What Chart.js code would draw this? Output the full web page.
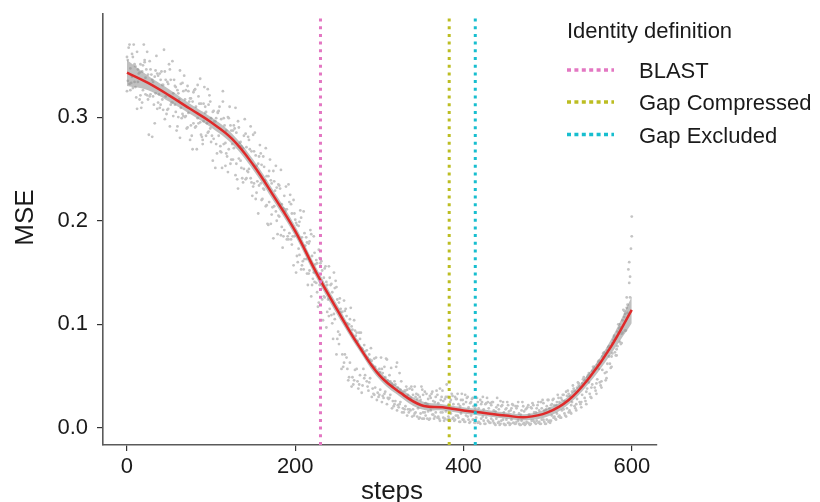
<!DOCTYPE html>
<html>
<head>
<meta charset="utf-8">
<title>MSE over training steps</title>
<script src="https://cdn.jsdelivr.net/npm/chart.js@4.4.1/dist/chart.umd.min.js"></script>
<style>
  html, body { margin: 0; padding: 0; background: #fff; }
  #wrap { width: 820px; height: 502px; }
</style>
</head>
<body>
<div id="wrap"><canvas id="mseChart" width="820" height="502"></canvas></div>
<script>
// raw MSE per step; five runs, each sampled every 3 steps from its own start step
const scatterStride = 3;
const scatterOffsets = [0, 1, 2, 0, 1];
const scatterA = [
  0.358,0.332,0.361,0.334,0.363,0.317,0.344,0.353,
  0.321,0.354,0.281,0.339,0.308,0.342,0.317,0.344,
  0.307,0.346,0.314,0.330,0.291,0.345,0.303,0.317,
  0.330,0.278,0.315,0.290,0.331,0.295,0.278,0.310,
  0.285,0.315,0.258,0.296,0.304,0.267,0.315,0.275,
  0.300,0.255,0.287,0.244,0.296,0.258,0.270,0.240,
  0.281,0.241,0.283,0.221,0.255,0.236,0.262,0.214,
  0.243,0.197,0.248,0.209,0.235,0.186,0.212,0.233,
  0.182,0.216,0.157,0.198,0.173,0.203,0.153,0.184,
  0.149,0.187,0.150,0.162,0.121,0.161,0.127,0.141,
  0.108,0.139,0.110,0.136,0.081,0.112,0.063,0.108,
  0.049,0.098,0.046,0.092,0.042,0.077,0.048,0.075,
  0.044,0.065,0.032,0.054,0.032,0.057,0.033,0.066,
  0.029,0.043,0.023,0.063,0.023,0.034,0.018,0.037,
  0.018,0.037,0.014,0.028,0.010,0.037,0.015,0.023,
  0.031,0.013,0.025,0.010,0.038,0.015,0.028,0.008,
  0.025,0.009,0.030,0.012,0.021,0.008,0.032,0.011,
  0.024,0.008,0.019,0.005,0.027,0.011,0.023,0.007,
  0.024,0.007,0.016,0.005,0.026,0.008,0.018,0.005,
  0.017,0.005,0.021,0.007,0.013,0.004,0.018,0.005,
  0.020,0.007,0.015,0.005,0.025,0.008,0.018,0.006,
  0.022,0.010,0.022,0.011,0.029,0.018,0.035,0.015,
  0.022,0.036,0.023,0.041,0.025,0.049,0.035,0.044,
  0.039,0.057,0.043,0.057,0.045,0.072,0.054,0.069,
  0.069,0.088,0.076,0.100,0.091,0.113,0.116,0.140,
  0.204
];
const scatterB = [
  0.335,0.347,0.328,0.349,0.334,0.351,0.326,0.338,
  0.341,0.322,0.334,0.323,0.340,0.312,0.331,0.320,
  0.332,0.312,0.323,0.305,0.323,0.309,0.325,0.301,
  0.304,0.318,0.294,0.310,0.294,0.313,0.296,0.305,
  0.286,0.299,0.279,0.299,0.282,0.298,0.274,0.287,
  0.269,0.287,0.270,0.285,0.260,0.272,0.250,0.271,
  0.250,0.267,0.236,0.253,0.234,0.254,0.230,0.243,
  0.218,0.236,0.214,0.232,0.204,0.216,0.191,0.211,
  0.188,0.207,0.185,0.196,0.167,0.184,0.163,0.179,
  0.152,0.166,0.141,0.159,0.138,0.152,0.126,0.138,
  0.115,0.131,0.105,0.124,0.090,0.112,0.071,0.101,
  0.063,0.095,0.056,0.084,0.051,0.076,0.051,0.068,
  0.048,0.060,0.039,0.053,0.037,0.053,0.035,0.046,
  0.032,0.041,0.026,0.039,0.025,0.033,0.021,0.032,
  0.029,0.018,0.030,0.019,0.027,0.015,0.024,0.016,
  0.017,0.026,0.015,0.024,0.015,0.026,0.016,0.022,
  0.014,0.023,0.012,0.023,0.014,0.023,0.012,0.020,
  0.012,0.021,0.010,0.019,0.009,0.018,0.010,0.019,
  0.009,0.017,0.009,0.018,0.007,0.015,0.008,0.016,
  0.008,0.015,0.006,0.014,0.007,0.016,0.006,0.013,
  0.007,0.015,0.007,0.017,0.008,0.017,0.008,0.019,
  0.012,0.022,0.014,0.025,0.017,0.026,0.019,0.031,
  0.025,0.036,0.028,0.040,0.032,0.046,0.038,0.051,
  0.042,0.057,0.047,0.063,0.056,0.072,0.062,0.078,
  0.072,0.087,0.079,0.097,0.092,0.110,0.111,0.126
];
const scatterC = [
  0.367,0.333,0.370,0.319,0.342,0.309,0.370,0.346,
  0.283,0.341,0.312,0.359,0.322,0.344,0.365,0.303,
  0.351,0.314,0.336,0.287,0.317,0.299,0.340,0.289,
  0.315,0.282,0.326,0.269,0.313,0.281,0.329,0.294,
  0.321,0.282,0.296,0.265,0.310,0.251,0.292,0.262,
  0.310,0.274,0.289,0.240,0.275,0.241,0.298,0.248,
  0.269,0.224,0.285,0.238,0.273,0.221,0.239,0.197,
  0.259,0.213,0.229,0.187,0.231,0.174,0.209,0.185,
  0.225,0.185,0.201,0.160,0.210,0.161,0.176,0.138,
  0.191,0.144,0.158,0.117,0.159,0.104,0.156,0.124,
  0.138,0.086,0.142,0.093,0.115,0.059,0.115,0.046,
  0.116,0.042,0.089,0.038,0.092,0.057,0.069,0.036,
  0.077,0.033,0.068,0.030,0.068,0.029,0.067,0.028,
  0.058,0.021,0.059,0.020,0.045,0.015,0.040,0.015,
  0.040,0.012,0.033,0.009,0.040,0.009,0.033,0.008,
  0.033,0.009,0.036,0.009,0.030,0.007,0.042,0.009,
  0.033,0.007,0.028,0.006,0.033,0.006,0.029,0.005,
  0.028,0.005,0.029,0.005,0.025,0.004,0.029,0.005,
  0.025,0.004,0.029,0.003,0.022,0.003,0.025,0.003,
  0.023,0.004,0.021,0.003,0.025,0.003,0.020,0.003,
  0.024,0.005,0.022,0.004,0.027,0.004,0.027,0.005,
  0.027,0.009,0.032,0.010,0.032,0.012,0.036,0.015,
  0.041,0.019,0.044,0.023,0.047,0.026,0.051,0.030,
  0.059,0.036,0.064,0.041,0.072,0.046,0.078,0.058,
  0.085,0.070,0.100,0.081,0.114,0.094,0.153,0.173
];
const scatterD = [
  0.325,0.370,0.339,0.351,0.308,0.343,0.314,0.355,
  0.363,0.320,0.336,0.294,0.342,0.309,0.331,0.298,
  0.334,0.291,0.354,0.312,0.326,0.280,0.333,0.300,
  0.290,0.318,0.269,0.327,0.299,0.337,0.274,0.304,
  0.327,0.289,0.305,0.251,0.305,0.272,0.325,0.253,
  0.247,0.292,0.259,0.309,0.231,0.276,0.237,0.284,
  0.247,0.291,0.233,0.263,0.207,0.265,0.231,0.270,
  0.196,0.239,0.183,0.253,0.205,0.249,0.185,0.211,
  0.235,0.182,0.220,0.150,0.195,0.153,0.209,0.163,
  0.178,0.127,0.185,0.140,0.172,0.111,0.145,0.097,
  0.156,0.109,0.150,0.071,0.121,0.057,0.123,0.068,
  0.100,0.040,0.104,0.057,0.092,0.034,0.080,0.045,
  0.071,0.030,0.067,0.027,0.057,0.025,0.059,0.023,
  0.051,0.019,0.045,0.017,0.053,0.015,0.036,0.012,
  0.038,0.011,0.040,0.011,0.030,0.009,0.035,0.009,
  0.009,0.035,0.011,0.032,0.007,0.036,0.009,0.030,
  0.007,0.031,0.008,0.033,0.006,0.027,0.006,0.030,
  0.006,0.029,0.005,0.025,0.004,0.030,0.004,0.025,
  0.005,0.025,0.003,0.022,0.004,0.025,0.003,0.022,
  0.004,0.022,0.004,0.025,0.003,0.021,0.004,0.022,
  0.004,0.022,0.004,0.025,0.004,0.024,0.004,0.027,
  0.007,0.028,0.008,0.029,0.010,0.032,0.011,0.033,
  0.014,0.038,0.017,0.043,0.020,0.047,0.023,0.053,
  0.029,0.059,0.033,0.065,0.039,0.073,0.048,0.079,
  0.059,0.089,0.070,0.096,0.082,0.107,0.126,0.160,
  0.185
];
const scatterE = [
  0.355,0.326,0.358,0.329,0.346,0.321,0.350,0.322,
  0.317,0.346,0.320,0.345,0.314,0.336,0.307,0.336,
  0.308,0.336,0.301,0.329,0.300,0.332,0.301,0.326,
  0.325,0.292,0.324,0.291,0.320,0.283,0.313,0.282,
  0.312,0.276,0.306,0.274,0.306,0.266,0.299,0.265,
  0.299,0.259,0.292,0.255,0.290,0.251,0.282,0.241,
  0.278,0.237,0.267,0.227,0.262,0.220,0.252,0.215,
  0.248,0.206,0.238,0.200,0.234,0.194,0.224,0.182,
  0.218,0.177,0.207,0.166,0.199,0.157,0.188,0.149,
  0.180,0.138,0.169,0.131,0.164,0.124,0.154,0.112,
  0.145,0.101,0.135,0.086,0.125,0.071,0.113,0.057,
  0.105,0.049,0.094,0.045,0.086,0.041,0.074,0.040,
  0.066,0.038,0.059,0.034,0.054,0.031,0.049,0.029,
  0.045,0.026,0.042,0.022,0.037,0.019,0.036,0.018,
  0.017,0.032,0.015,0.032,0.014,0.032,0.012,0.028,
  0.029,0.013,0.030,0.011,0.027,0.010,0.030,0.011,
  0.027,0.010,0.028,0.010,0.027,0.008,0.025,0.008,
  0.025,0.008,0.022,0.006,0.023,0.007,0.024,0.006,
  0.022,0.005,0.020,0.006,0.021,0.004,0.019,0.005,
  0.019,0.005,0.019,0.004,0.017,0.005,0.019,0.004,
  0.019,0.006,0.019,0.006,0.019,0.006,0.021,0.007,
  0.023,0.011,0.025,0.012,0.027,0.014,0.031,0.017,
  0.035,0.021,0.039,0.025,0.043,0.029,0.049,0.033,
  0.055,0.039,0.061,0.044,0.069,0.053,0.075,0.062,
  0.082,0.073,0.093,0.083,0.104,0.094,0.119,0.146
];

// loess fit and its confidence band, every 25 steps
const fitSteps = [0,25,50,75,100,125,150,175,200,225,250,275,300,325,350,375,400,425,450,475,500,525,550,575,600];
const fitMSE   = [0.343,0.333,0.321,0.308,0.295,0.279,0.254,0.223,0.190,0.150,0.114,0.080,0.051,0.034,0.022,0.020,0.017,0.0145,0.012,0.0105,0.015,0.027,0.049,0.078,0.114];
const bandHigh = [0.355,0.340,0.327,0.313,0.300,0.284,0.259,0.228,0.195,0.155,0.119,0.084,0.055,0.038,0.026,0.023,0.020,0.0175,0.015,0.0135,0.019,0.031,0.054,0.085,0.127];
const bandLow  = [0.330,0.326,0.315,0.303,0.290,0.274,0.249,0.218,0.185,0.145,0.109,0.076,0.047,0.030,0.018,0.017,0.014,0.0115,0.009,0.0075,0.011,0.023,0.044,0.071,0.101];

// identity-threshold markers
const markerNames  = ["BLAST", "Gap Compressed", "Gap Excluded"];
const markerSteps  = [230, 383, 414];
const markerColors = ["#e377c2", "#bcbd22", "#17becf"];

const xTicks = [0, 200, 400, 600];
const yTicks = [0.0, 0.1, 0.2, 0.3];
const X_MIN = -28.5, X_MAX = 630;
const Y_MIN = -0.0164, Y_MAX = 0.3995;

const FONT = '"Liberation Sans", Arial, Helvetica, sans-serif';
const INK = "#1a1a1a";
const DOTS = [3, 4.7];

function toPoints(values, offset) {
  return values.map((v, i) => ({ x: i * scatterStride + offset, y: v }));
}
function zipSteps(values) {
  return fitSteps.map((s, i) => ({ x: s, y: values[i] }));
}

const datasets = [];

markerSteps.forEach((s, i) => {
  datasets.push({
    type: "line",
    label: markerNames[i],
    data: [{ x: s, y: Y_MIN }, { x: s, y: Y_MAX }],
    borderColor: markerColors[i],
    borderWidth: 3,
    borderDash: DOTS,
    borderCapStyle: "butt",
    pointRadius: 0,
    order: 0
  });
});

datasets.push({
  type: "line",
  label: "fit",
  data: zipSteps(fitMSE),
  borderColor: "#df2a2a",
  borderWidth: 2.5,
  pointRadius: 0,
  tension: 0.4,
  order: 1
});

datasets.push({
  type: "line",
  label: "band high",
  data: zipSteps(bandHigh),
  borderWidth: 0,
  pointRadius: 0,
  tension: 0.4,
  backgroundColor: "rgba(140,140,140,0.55)",
  fill: "+1",
  order: 2
});
datasets.push({
  type: "line",
  label: "band low",
  data: zipSteps(bandLow),
  borderWidth: 0,
  pointRadius: 0,
  tension: 0.4,
  fill: false,
  order: 2
});

[scatterA, scatterB, scatterC, scatterD, scatterE].forEach((vals, k) => {
  datasets.push({
    type: "scatter",
    label: "run " + k,
    data: toPoints(vals, scatterOffsets[k]),
    pointRadius: 1.4,
    pointBorderWidth: 0,
    pointBackgroundColor: "#c4c4c4",
    order: 3
  });
});

// legend + axis titles, drawn by hand so they sit where ggplot puts them
const decorations = {
  id: "decorations",
  afterDraw(chart) {
    const ctx = chart.ctx;
    ctx.save();
    ctx.fillStyle = INK;
    ctx.textBaseline = "alphabetic";

    ctx.font = "22px " + FONT;
    ctx.textAlign = "left";
    ctx.fillText("Identity definition", 567, 38);

    const keyY = [70, 102, 134.5];
    const labelY = [77.5, 110, 142.5];
    markerNames.forEach((name, i) => {
      ctx.strokeStyle = markerColors[i];
      ctx.lineWidth = 3.5;
      ctx.lineCap = "butt";
      ctx.setLineDash([4, 3.4]);
      ctx.beginPath();
      ctx.moveTo(567, keyY[i]);
      ctx.lineTo(614, keyY[i]);
      ctx.stroke();
      ctx.setLineDash([]);
      ctx.fillText(name, 639, labelY[i]);
    });

    ctx.font = "26px " + FONT;
    ctx.textAlign = "center";
    ctx.fillText("steps", 392, 499);

    ctx.translate(33, 217.5);
    ctx.rotate(-Math.PI / 2);
    ctx.fillText("MSE", 0, 0);
    ctx.restore();
  }
};

const axisGrid = { drawOnChartArea: false, drawTicks: true, tickLength: 6, color: "#333", lineWidth: 1.2 };
const axisBorder = { display: true, color: "#5a5a5a", width: 1.6 };

new Chart(document.getElementById("mseChart").getContext("2d"), {
  type: "scatter",
  data: { datasets: datasets },
  options: {
    responsive: false,
    animation: false,
    events: [],
    layout: { padding: { left: 0, right: 163, top: 14, bottom: 0 } },
    plugins: {
      legend: { display: false },
      tooltip: { enabled: false }
    },
    scales: {
      x: {
        type: "linear",
        min: X_MIN,
        max: X_MAX,
        afterBuildTicks: s => { s.ticks = xTicks.map(v => ({ value: v })); },
        afterFit: s => { s.height = 57; s.paddingLeft = 0; s.paddingRight = 0; },
        grid: axisGrid,
        border: axisBorder,
        ticks: {
          font: { family: FONT, size: 22 },
          color: INK,
          padding: 3,
          maxRotation: 0,
          callback: v => String(v)
        }
      },
      y: {
        type: "linear",
        min: Y_MIN,
        max: Y_MAX,
        afterBuildTicks: s => { s.ticks = yTicks.map(v => ({ value: v })); },
        afterFit: s => { s.width = 103; s.paddingTop = 0; s.paddingBottom = 0; },
        grid: axisGrid,
        border: axisBorder,
        ticks: {
          font: { family: FONT, size: 22 },
          color: INK,
          padding: 9,
          callback: v => v.toFixed(1)
        }
      }
    }
  },
  plugins: [decorations]
});
</script>
</body>
</html>
